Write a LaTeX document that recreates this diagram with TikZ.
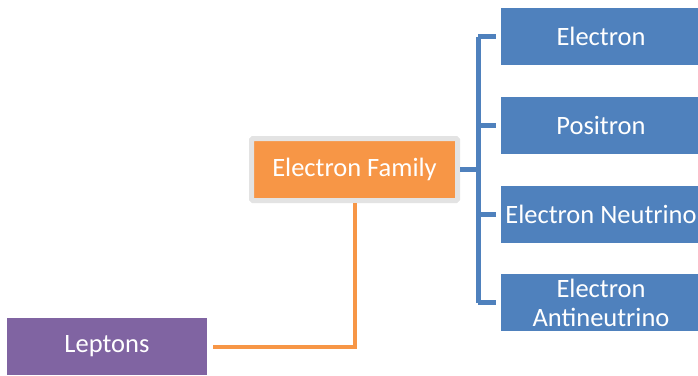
\documentclass[tikz,border=0pt]{standalone}
\usepackage{fontspec}
\setmainfont{Carlito}
\usetikzlibrary{calc}
\definecolor{boxblue}{HTML}{4F81BD}
\definecolor{boxorange}{HTML}{F79646}
\definecolor{boxpurple}{HTML}{8064A2}
\definecolor{framegray}{HTML}{E3E3E3}
\tikzset{
    leaf/.style={fill=boxblue, text=white, minimum width=200pt, minimum height=57pt,
        inner sep=0pt, outer sep=0pt, align=center, font=\fontsize{26.5}{29}\selectfont},
    family/.style={fill=boxorange, draw=framegray, line width=5pt, rounded corners=1.5pt,
        text=white, minimum width=206pt, minimum height=62pt, inner sep=0pt, outer sep=0pt,
        font=\fontsize{26.5}{29}\selectfont},
    root/.style={fill=boxpurple, text=white, minimum width=200pt, minimum height=57pt,
        inner sep=0pt, outer sep=0pt, font=\fontsize{26.5}{29}\selectfont},
    blueline/.style={draw=boxblue, line width=5pt},
    orangeline/.style={draw=boxorange, line width=4pt}
}
\begin{document}
\begin{tikzpicture}[x=1pt, y=-1pt]
        \useasboundingbox (0,0) rectangle (698,375);
        \begin{scope}
        \clip (0,0) rectangle (698,375);
        % Root
        \node[root] (lep) at (107,346.5) {Leptons};
        
        % Family
        \node[family] (fam) at (354.5,169.5) {Electron Family};
        
        % Leaves
        \node[leaf] (e1) at (601,36.5) {Electron};
        \node[leaf] (e2) at (601,125.5) {Positron};
        \node[leaf] (e3) at (601,214) {Electron Neutrino};
        \node[leaf] (e4) at (601,302.5) {Electron\\Antineutrino};
        
        % Connector root -> family
        \draw[orangeline] ($(lep.east)+(6,0)$) -| ($(fam.south)+(0,2.5)$);
        
        % Bracket family -> leaves
        \coordinate (spine) at (478,169.5);
        \draw[blueline] ($(fam.east)+(2.5,0)$) -- (spine);
        \draw[blueline] (spine |- e1) -- (spine |- e4);
        \foreach \leafname in {e1,e2,e3,e4}
            \draw[blueline] (spine |- \leafname) -- ($(\leafname.west)+(-5,0)$);
        \end{scope}
    \end{tikzpicture}
\end{document}
